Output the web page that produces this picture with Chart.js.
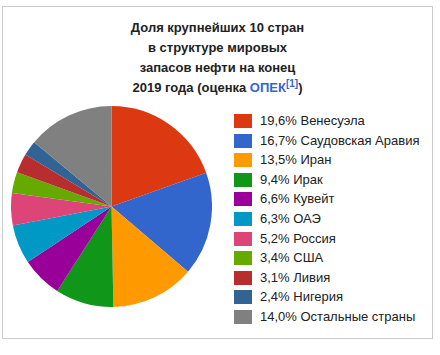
<!DOCTYPE html>
<html>
<head>
<meta charset="utf-8">
<script src="https://cdn.jsdelivr.net/npm/chart.js@4"></script>
<style>
  html, body { margin: 0; padding: 0; background: #fff; width: 440px; height: 355px; overflow: hidden; }
  body { font-family: "Liberation Sans", Arial, sans-serif; color: #202122; position: relative; }
  #frame { position: absolute; left: 2px; top: 6px; width: 429px; height: 331px; border: 1px solid #c8ccd1; }
  #title { position: absolute; left: 2px; top: 18px; width: 431px; text-align: center; font-weight: bold; font-size: 13px; line-height: 20px; }
  #title .lnk { color: #3366cc; }
  #title sup { font-size: 10px; line-height: 0; vertical-align: 5px; }
  #pie { position: absolute; left: 11px; top: 106px; width: 201px; height: 201px; }
  #legend { position: absolute; left: 234px; top: 114px; font-size: 13px; }
  .row { position: relative; height: 19.6px; }
  .box { position: absolute; left: 0; top: 0; width: 18px; height: 14px; }
  .txt { position: absolute; left: 26px; top: -1px; line-height: 16px; white-space: nowrap; }
</style>
</head>
<body>
<div id="frame"></div>
<div id="title">Доля крупнейших 10 стран<br>в структуре мировых<br>запасов нефти на конец<br>2019 года (оценка <span class="lnk">ОПЕК<sup>[1]</sup></span>)</div>
<div id="pie"><canvas id="c"></canvas></div>
<div id="legend"></div>
<script>
const categories = ["Венесуэла", "Саудовская Аравия", "Иран", "Ирак", "Кувейт", "ОАЭ", "Россия", "США", "Ливия", "Нигерия", "Остальные страны"];
const shares = [19.6, 16.7, 13.5, 9.4, 6.6, 6.3, 5.2, 3.4, 3.1, 2.4, 14.0];
const colors = ["#dc3912", "#3366cc", "#ff9900", "#109618", "#990099", "#0099c6", "#dd4477", "#66aa00", "#b82e2e", "#316395", "#808080"];

const fmt = v => v.toFixed(1).replace(".", ",") + "%";

new Chart(document.getElementById("c"), {
  type: "pie",
  data: {
    labels: categories,
    datasets: [{ data: shares, backgroundColor: colors, borderWidth: 0, hoverOffset: 0 }]
  },
  options: {
    responsive: true,
    maintainAspectRatio: false,
    animation: false,
    layout: { padding: 0 },
    plugins: { legend: { display: false }, tooltip: { enabled: false }, title: { display: false } }
  }
});

const leg = document.getElementById("legend");
categories.forEach((name, i) => {
  const row = document.createElement("div");
  row.className = "row";
  const b = document.createElement("div");
  b.className = "box";
  b.style.background = colors[i];
  const t = document.createElement("div");
  t.className = "txt";
  t.textContent = fmt(shares[i]) + " " + name;
  row.appendChild(b);
  row.appendChild(t);
  leg.appendChild(row);
});
</script>
</body>
</html>
